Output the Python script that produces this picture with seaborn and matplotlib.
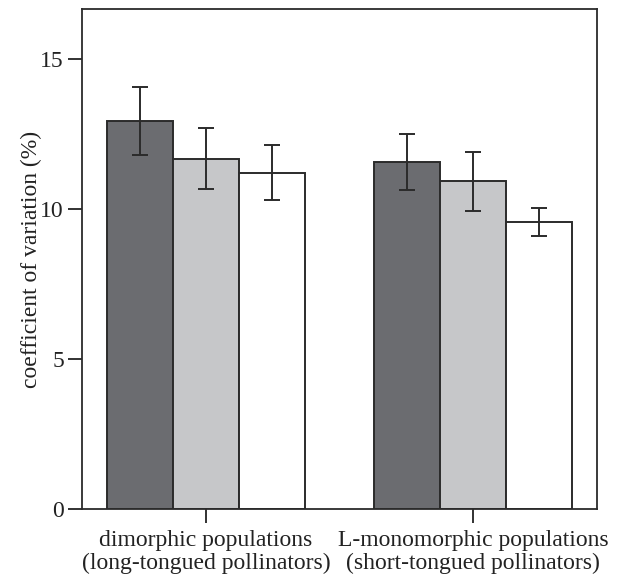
import matplotlib
matplotlib.use("Agg")
import matplotlib.pyplot as plt
import seaborn as sns
import pandas as pd
import numpy as np

# ---- data ----
groups = ["dimorphic populations\n(long-tongued pollinators)",
          "L-monomorphic populations\n(short-tongued pollinators)"]
series = ["trait 1", "trait 2", "trait 3"]
means = [[12.94, 11.66, 11.21],
         [11.57, 10.92, 9.57]]
err_low = [[11.80, 10.66, 10.29],
           [10.64, 9.94, 9.09]]
err_high = [[14.08, 12.69, 12.13],
            [12.49, 11.90, 10.04]]
yticks = [0, 5, 10, 15]
ylabel = "coefficient of variation (%)"
colors = ["#6b6c70", "#c6c7c9", "#ffffff"]

rows = []
for gi, g in enumerate(groups):
    for si, s in enumerate(series):
        rows.append({"group": g, "series": s, "value": means[gi][si]})
df = pd.DataFrame(rows)

sns.set_theme(style="white")
plt.rcParams["font.family"] = ["Liberation Serif", "DejaVu Serif"]

fig = plt.figure(figsize=(6.24, 5.8), dpi=100)
ax = fig.add_axes([82/624, 1-509/580, (597-82)/624, (509-9)/580])

sns.barplot(data=df, x="group", y="value", hue="series", order=groups,
            hue_order=series, palette=colors, width=0.742, errorbar=None,
            edgecolor="#2b2b2b", linewidth=1.4, saturation=1, legend=False, ax=ax)

# error bars at bar centres
bar_conts = list(ax.containers)
for si, cont in enumerate(bar_conts):
    for gi, bar in enumerate(cont.patches):
        xc = bar.get_x() + bar.get_width() / 2
        m = means[gi][si]
        ax.errorbar(xc, m, yerr=[[m - err_low[gi][si]], [err_high[gi][si] - m]],
                    fmt="none", ecolor="#2b2b2b", elinewidth=1.4,
                    capsize=6, capthick=1.4, zorder=5)

ax.set_xlim(-0.464, 1.464)
ax.set_ylim(0, 16.67)
ax.set_yticks(yticks)
ax.set_xlabel("")
ax.set_ylabel(ylabel, fontsize=17, color="#222222")
ax.yaxis.set_label_coords(-0.078, 0.5)
ax.tick_params(axis="both", direction="out", length=10, width=1.3,
               colors="#222222", labelsize=17, left=True, bottom=True)
ax.tick_params(axis="x", pad=5)
ax.tick_params(axis="y", pad=3)
for lab in ax.get_xticklabels():
    lab.set_linespacing(1.15)
for sp in ax.spines.values():
    sp.set_visible(True)
    sp.set_color("#2b2b2b")
    sp.set_linewidth(1.3)

fig.savefig("out.png", dpi=100, facecolor="white")
